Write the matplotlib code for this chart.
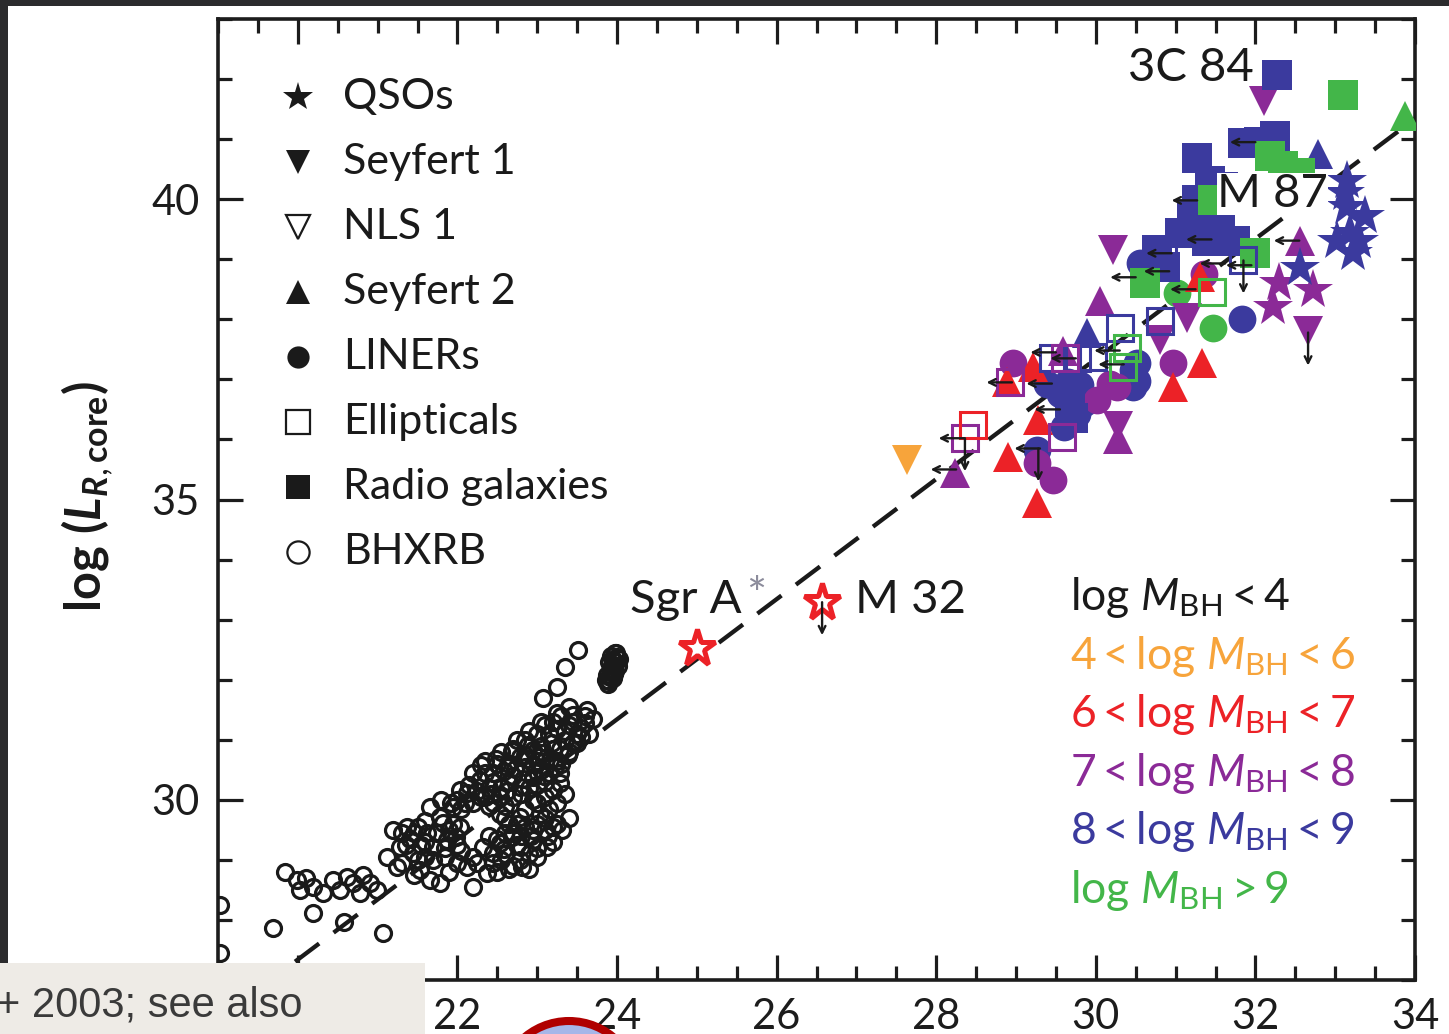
import matplotlib
matplotlib.use('Agg')
import matplotlib.pyplot as plt
from matplotlib.patches import Rectangle, Ellipse
from matplotlib.ticker import MultipleLocator, FuncFormatter

plt.rcParams['font.family'] = ['Lato', 'DejaVu Sans']
plt.rcParams['mathtext.fontset'] = 'custom'
plt.rcParams['mathtext.rm'] = 'Lato'
plt.rcParams['mathtext.it'] = 'Lato:italic'
plt.rcParams['mathtext.bf'] = 'Lato:bold'
plt.rcParams['mathtext.bfit'] = 'Lato:italic:bold'

# ---------------- data ----------------
C_BLK = '#1a1a1a'
C_ORA = '#f7a43b'
C_RED = '#ec2227'
C_PUR = '#8b2a97'
C_BLU = '#3b3a9e'
C_GRN = '#43b649'

# fundamental-plane relation  y = x + 7.34
fp_x = [19.0, 34.0]
fp_y = [26.34, 41.34]

# BHXRB (open circles)
bh_x = [23.51, 23.35, 23.25, 23.07,
        23.97, 23.95, 23.93, 23.91, 23.89, 24.00, 23.86, 24.01, 23.96, 23.90,
        23.93, 23.94, 23.92, 23.90, 23.98, 23.97, 23.95, 23.88, 24.02, 23.99,
        23.30, 23.45, 23.60, 23.70, 23.20, 23.40, 23.55, 23.65, 23.15, 23.35, 23.50, 23.25, 23.60,
        22.95, 23.16, 22.78, 22.62, 23.29, 22.95, 22.45, 22.28, 22.78, 23.20, 22.12, 22.53, 21.94,
        21.78, 22.03, 21.87, 21.70, 22.20, 22.95, 23.05, 22.85, 23.10, 22.40, 22.65, 22.30, 22.05,
        21.95,
        22.53, 22.78, 23.03, 23.20, 22.70, 22.95, 22.53, 22.78, 22.45, 23.12, 22.32, 22.85, 23.10,
        22.65, 22.90, 23.15, 22.60,
        22.03, 22.12, 22.20, 22.37, 22.81, 22.45, 23.29, 23.31, 23.40, 21.80,
        22.00, 22.15, 22.35, 22.50, 22.70, 22.85, 23.00, 23.10, 23.25, 23.45, 23.55, 23.40, 23.30,
        23.05, 22.90, 22.70, 22.60, 22.40, 22.00, 21.85, 22.00, 22.20, 22.40, 22.60, 22.85, 23.00,
        23.25, 23.35, 23.15, 22.75, 23.00, 22.65, 22.55, 22.90, 23.20, 21.60, 21.50, 21.35, 21.30,
        21.45, 21.90, 21.60, 23.40, 23.62, 23.00, 22.55,
        22.20, 22.35, 22.55, 22.75, 22.90, 23.05, 22.85, 22.65, 22.45, 22.25, 22.10, 22.45, 22.70,
        22.95, 23.20, 23.35, 23.45, 23.00, 22.80, 23.10, 23.25, 22.35, 21.90, 21.75, 21.60, 21.85,
        22.05, 22.25, 22.50, 22.70, 22.95, 23.10, 23.25, 22.80, 22.60, 23.00, 22.75, 21.30, 21.50,
        21.45,
        22.58, 22.72, 22.88, 23.02, 23.18, 22.42, 22.62, 22.82, 23.08, 23.22, 22.50, 22.68, 22.92,
        23.14, 22.30, 22.48, 22.68, 22.88, 23.06, 22.58, 22.80, 23.00, 21.98, 21.82, 21.66, 21.92,
        23.50, 23.38, 23.28,
        21.19, 21.37, 21.28, 21.24, 21.44, 21.62, 21.66, 21.78, 21.53, 21.12, 21.70, 21.40, 21.55,
        19.84, 19.99, 20.03, 20.19, 20.32, 20.44, 20.53, 20.69, 20.82, 20.90, 20.99, 20.78, 20.62,
        20.10,
        20.19, 19.69, 21.07, 20.58, 19.03, 19.03]
bh_y = [32.49, 32.21, 31.88, 31.69,
        32.45, 32.32, 32.18, 32.05, 31.93, 32.38, 32.00, 32.22, 32.10, 32.30,
        32.40, 32.25, 32.12, 31.98, 32.30, 32.15, 32.02, 32.08, 32.35, 32.45,
        31.40, 31.42, 31.40, 31.35, 31.30, 31.25, 31.20, 31.10, 31.10, 31.00, 30.95, 31.18, 31.28,
        30.83, 30.66, 30.71, 30.54, 30.44, 30.38, 30.44, 30.33, 30.21, 30.16, 30.11, 30.05, 29.88,
        29.71, 29.55, 29.33, 29.21, 29.94, 30.00, 30.90, 30.55, 30.30, 30.20, 30.30, 30.05, 29.85,
        29.60,
        29.77, 29.71, 29.77, 29.55, 29.45, 29.33, 29.28, 29.00, 29.11, 29.21, 29.21, 29.55, 29.50,
        29.60, 29.10, 29.85, 29.10,
        30.16, 28.88, 28.55, 28.78, 28.88, 28.95, 30.28, 29.50, 29.70, 30.00,
        30.00, 30.25, 30.45, 30.60, 30.85, 31.00, 31.10, 31.25, 31.45, 31.30, 31.05, 30.80, 30.60,
        30.50, 30.20, 30.05, 29.90, 29.90, 29.25, 29.05, 28.95, 29.05, 29.40, 29.45, 29.85, 29.60,
        29.95, 30.10, 30.45, 29.25, 29.05, 28.85, 29.00, 28.85, 29.30, 29.30, 29.55, 29.25, 28.95,
        28.75, 28.80, 29.65, 31.55, 31.50, 30.65, 30.20,
        30.45, 30.65, 30.80, 31.00, 31.15, 31.30, 30.75, 30.60, 30.30, 30.15, 29.95, 29.95, 30.40,
        30.60, 30.85, 31.15, 30.95, 30.25, 30.10, 30.05, 30.65, 30.05, 29.50, 29.45, 29.05, 29.20,
        29.15, 28.95, 28.80, 28.90, 29.50, 29.70, 29.60, 29.40, 29.70, 29.95, 29.60, 29.45, 29.00,
        29.45,
        30.48, 30.52, 30.68, 30.72, 30.95, 30.10, 30.15, 30.35, 30.40, 30.55, 29.35, 29.38, 29.40,
        29.40, 30.58, 30.68, 30.82, 30.92, 30.78, 29.18, 29.22, 29.20, 29.38, 29.62, 29.88, 29.95,
        31.10, 30.75, 30.85,
        29.50, 29.55, 29.21, 28.88, 29.11, 29.45, 28.66, 28.61, 28.83, 29.05, 29.00, 29.35, 29.25,
        28.80, 28.66, 28.50, 28.55, 28.45, 28.66, 28.50, 28.61, 28.75, 28.61, 28.50, 28.45, 28.71,
        28.70,
        28.11, 27.87, 27.78, 27.96, 28.25, 27.45]

# Radio galaxies (filled squares)
rg_blu_x = [32.27, 31.85, 32.25, 31.27, 31.43, 31.27, 31.30, 31.05, 31.39, 31.56, 30.77, 30.87, 31.74, 31.20, 32.05, 31.60, 29.68, 29.72]
rg_blu_y = [42.07, 40.93, 41.05, 40.68, 40.31, 39.98, 39.48, 39.43, 39.31, 39.65, 39.15, 38.87, 39.31, 39.75, 40.95, 40.20, 36.62, 36.35]
rg_grn_x = [33.10, 32.18, 32.56, 32.35, 31.99, 30.62, 31.47]
rg_grn_y = [41.74, 40.72, 40.43, 40.55, 39.10, 38.60, 39.98]

# LINERs (filled circles)
li_blu_x = [30.55, 31.83, 29.39, 29.71, 29.76, 29.60, 30.47, 30.47, 30.52, 29.26, 29.80, 30.52, 29.55, 29.85, 29.65]
li_blu_y = [38.93, 38.01, 36.93, 36.70, 36.43, 36.20, 37.15, 36.87, 36.98, 35.82, 36.90, 37.27, 36.75, 36.60, 36.95]
li_pur_x = [28.96, 30.97, 30.27, 30.01, 29.26, 29.46, 30.18, 31.35]
li_pur_y = [37.27, 37.27, 36.87, 36.65, 35.60, 35.32, 36.93, 38.75]
li_grn_x = [31.02, 31.47]
li_grn_y = [38.43, 37.86]

# Seyfert 2 (filled up triangles)
s2_grn_x = [33.87]
s2_grn_y = [41.39]
s2_blu_x = [32.78, 29.89]
s2_blu_y = [40.76, 37.77]
s2_pur_x = [32.56, 30.05, 28.24, 29.59, 30.28]
s2_pur_y = [39.31, 38.31, 35.44, 37.48, 36.00]
s2_red_x = [28.89, 29.21, 29.28, 28.90, 29.26, 30.97, 31.33, 31.30]
s2_red_y = [36.95, 37.20, 36.32, 35.70, 34.95, 36.87, 37.27, 38.70]

# Seyfert 1 (filled down triangles)
s1_ora_x = [27.63]
s1_ora_y = [35.65]
s1_pur_x = [32.11, 30.22, 31.14, 30.80, 32.66, 30.28]
s1_pur_y = [41.64, 39.15, 38.03, 37.65, 37.80, 36.22]

# Ellipticals (open squares)
el_blu_x = [31.85, 30.84, 30.30, 30.80, 29.46, 29.76, 29.97]
el_blu_y = [38.98, 39.10, 37.85, 37.98, 37.35, 37.35, 37.37]
el_grn_x = [31.46, 30.39, 30.34]
el_grn_y = [38.45, 37.53, 37.20]
el_pur_x = [28.92, 28.36, 29.58, 29.62]
el_pur_y = [36.95, 36.02, 36.04, 37.35]
el_red_x = [28.46]
el_red_y = [36.24]

# QSOs (stars)
qs_blu_x = [33.15, 33.15, 33.12, 33.19, 33.22, 33.02, 33.37, 32.56, 33.30]
qs_blu_y = [40.30, 39.87, 40.10, 39.43, 39.10, 39.31, 39.72, 38.86, 39.30]
qs_pur_x = [32.22, 32.72, 32.30]
qs_pur_y = [38.20, 38.48, 38.60]
# Sgr A* and M 32 (open red stars)
ll_x = [25.00, 26.57]
ll_y = [32.52, 33.29]

# upper limits
lim_left_x = [31.27, 32.00, 31.45, 30.95, 30.92, 30.50, 32.55, 31.62, 31.95, 31.25,
              28.95, 29.45, 29.50, 29.55, 29.30, 30.30, 30.35, 28.35, 28.25, 29.75]
lim_left_y = [39.98, 40.95, 39.33, 39.10, 38.80, 38.70, 39.31, 38.93, 38.90, 38.50,
              36.95, 36.93, 37.45, 36.50, 35.85, 37.48, 37.25, 36.02, 35.50, 37.35]
lim_down_x = [29.28, 31.85, 32.66, 26.57, 28.36]
lim_down_y = [35.85, 38.98, 37.78, 33.29, 36.02]

x_tick_labels_shown = [22, 24, 26, 28, 30, 32, 34]

leg_labels = ['QSOs', 'Seyfert 1', 'NLS 1', 'Seyfert 2', 'LINERs', 'Ellipticals', 'Radio galaxies', 'BHXRB']
leg_markers = ['*', 'v', 'v', '^', 'o', 's', 's', 'o']
leg_filled = [True, True, False, True, True, False, True, False]

mass_labels = [r'$\mathrm{log}\ M_{\mathrm{BH}} < 4$',
               r'$4 < \mathrm{log}\ M_{\mathrm{BH}} < 6$',
               r'$6 < \mathrm{log}\ M_{\mathrm{BH}} < 7$',
               r'$7 < \mathrm{log}\ M_{\mathrm{BH}} < 8$',
               r'$8 < \mathrm{log}\ M_{\mathrm{BH}} < 9$',
               r'$\mathrm{log}\ M_{\mathrm{BH}} > 9$']
mass_colors = [C_BLK, C_ORA, C_RED, C_PUR, C_BLU, C_GRN]

# ---------------- figure ----------------
W, H = 1449, 1034
fig = plt.figure(figsize=(W / 100, H / 100), dpi=100)
fig.patch.set_facecolor('white')
ax = fig.add_axes([218 / W, 1 - 980 / H, 1197 / W, 961 / H])
ax.set_xlim(19, 34)
ax.set_ylim(27, 43)

ax.xaxis.set_major_locator(MultipleLocator(2))
ax.xaxis.set_minor_locator(MultipleLocator(0.5))
ax.xaxis.set_major_formatter(FuncFormatter(
    lambda v, p: f'{v:.0f}' if round(v) in x_tick_labels_shown else ''))
ax.yaxis.set_major_locator(MultipleLocator(5))
ax.yaxis.set_minor_locator(MultipleLocator(1))
ax.tick_params(which='both', direction='in', top=True, right=True, width=2.3, colors='#1c1c1c')
ax.tick_params(which='major', length=18, labelsize=30, pad=13)
ax.tick_params(which='minor', length=10)
for s in ax.spines.values():
    s.set_linewidth(2.6)
    s.set_color('#1c1c1c')

# fundamental plane line
ax.plot(fp_x, fp_y, color='#1a1a1a', lw=3.1, dashes=(7.0, 4.2), zorder=2)

# BHXRB
ax.plot(bh_x, bh_y, 'o', ms=11.5, mfc='none', mec='#1a1a1a', mew=2.3, zorder=3)

big = dict(ls='none', mew=0, zorder=4)
ax.plot(li_blu_x, li_blu_y, 'o', ms=20, color=C_BLU, **big)
ax.plot(li_pur_x, li_pur_y, 'o', ms=20, color=C_PUR, **big)
ax.plot(li_grn_x, li_grn_y, 'o', ms=20, color=C_GRN, **big)
ax.plot(s2_red_x, s2_red_y, '^', ms=21, color=C_RED, **big)
ax.plot(s2_pur_x, s2_pur_y, '^', ms=21, color=C_PUR, **big)
ax.plot(s2_blu_x, s2_blu_y, '^', ms=21, color=C_BLU, **big)
ax.plot(s2_grn_x, s2_grn_y, '^', ms=21, color=C_GRN, **big)
ax.plot(s1_ora_x, s1_ora_y, 'v', ms=21, color=C_ORA, **big)
ax.plot(s1_pur_x, s1_pur_y, 'v', ms=21, color=C_PUR, **big)
ax.plot(qs_pur_x, qs_pur_y, '*', ms=30, color=C_PUR, **big)
ax.plot(qs_blu_x, qs_blu_y, '*', ms=30, color=C_BLU, **big)
ax.plot(rg_blu_x, rg_blu_y, 's', ms=21.5, color=C_BLU, **big)
ax.plot(rg_grn_x, rg_grn_y, 's', ms=21.5, color=C_GRN, **big)
op = dict(ls='none', mfc='none', mew=2.2, ms=19, zorder=5)
ax.plot(el_blu_x, el_blu_y, 's', mec=C_BLU, **op)
ax.plot(el_grn_x, el_grn_y, 's', mec=C_GRN, **op)
ax.plot(el_pur_x, el_pur_y, 's', mec=C_PUR, **op)
ax.plot(el_red_x, el_red_y, 's', mec=C_RED, **op)
ax.plot(ll_x, ll_y, '*', ms=28, mfc='white', mec=C_RED, mew=3.6, ls='none', zorder=6)

# upper-limit arrows
for x, y in zip(lim_left_x, lim_left_y):
    ax.annotate('', xy=(x - 0.32, y), xytext=(x, y),
                arrowprops=dict(arrowstyle='->', color='#1a1a1a', lw=1.7, shrinkA=0, shrinkB=0,
                                mutation_scale=12), zorder=7)
for x, y in zip(lim_down_x, lim_down_y):
    ax.annotate('', xy=(x, y - 0.55), xytext=(x, y),
                arrowprops=dict(arrowstyle='->', color='#1a1a1a', lw=1.7, shrinkA=0, shrinkB=0,
                                mutation_scale=12), zorder=7)

# labels on sources
lab = dict(fontsize=34, color='#1a1a1a', va='center', ha='left', zorder=8)
ax.text(24.16, 33.32, 'Sgr A', **lab)
ax.text(25.62, 33.38, '*', fontsize=34, color='#8c8c9c', va='center', ha='left', zorder=8)
ax.text(26.98, 33.32, 'M 32', **lab)
ax.text(30.40, 42.19, '3C 84', **lab)
ax.text(31.52, 40.08, 'M 87', bbox=dict(facecolor='white', edgecolor='none', pad=0.0), **lab)

# type legend
for i, (lbl, mk, fl) in enumerate(zip(leg_labels, leg_markers, leg_filled)):
    yy = 0.9188 - i * 0.0676
    msz = {'*': 22, 'v': 17, '^': 17, 'o': 16, 's': 17}[mk]
    ax.plot([0.0668], [yy], mk, transform=ax.transAxes, ms=msz,
            mfc=('#1a1a1a' if fl else 'none'), mec='#1a1a1a', mew=(0 if fl else 1.6), clip_on=False)
    ax.text(0.1044, yy, lbl, transform=ax.transAxes, fontsize=31, color='#1a1a1a',
            va='center', ha='left')

# mass legend
for i, (lbl, c) in enumerate(zip(mass_labels, mass_colors)):
    ax.text(29.68, 33.16 - i * 0.975, lbl, fontsize=32, color=c, va='baseline', ha='left')

# y label
ax.text(-0.109, 0.5026, r'$\mathbf{log\ (}\mathbfit{L}_{\mathbfit{R},\mathbf{core}}\mathbf{)}$',
        transform=ax.transAxes, rotation=90, ha='center', va='center', fontsize=35, color='#1a1a1a')

# ---- screenshot overlays ----
fig.add_artist(Rectangle((0, 1 - 6 / H), 1, 6 / H, transform=fig.transFigure,
                         facecolor='#2b2b2d', edgecolor='none', zorder=20))
fig.add_artist(Rectangle((0, 0), 8 / W, 1, transform=fig.transFigure,
                         facecolor='#2b2b2d', edgecolor='none', zorder=20))
fig.add_artist(Rectangle((0, 0), 425 / W, 71 / H, transform=fig.transFigure,
                         facecolor='#eeebe6', edgecolor='none', zorder=21))
fig.text(-4 / W, 17 / H, '+ 2003; see also', fontfamily='Liberation Sans', fontsize=30,
         color='#3a3a3a', va='baseline', ha='left', zorder=22)
fig.add_artist(Ellipse((569 / W, -56 / H), 138 / W, 138 / H, transform=fig.transFigure,
                       facecolor='#a6b6e8', edgecolor='#b00000', lw=5.8, zorder=19))

fig.savefig('out.png', dpi=100)
